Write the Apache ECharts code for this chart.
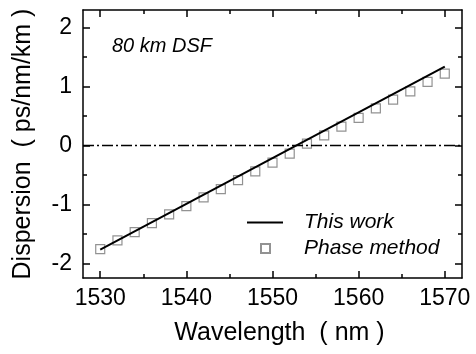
<!DOCTYPE html>
<html>
<head>
<meta charset="utf-8">
<title>Dispersion</title>
<script src="https://cdn.jsdelivr.net/npm/echarts@6/dist/echarts.min.js"></script>
<style>
  html, body { margin: 0; padding: 0; background: #fff; }
  #chart { width: 476px; height: 354px; }
</style>
</head>
<body>
<div id="chart"></div>
<script>
// data
const wavelengths = [1530, 1532, 1534, 1536, 1538, 1540, 1542, 1544, 1546, 1548, 1550,
                     1552, 1554, 1556, 1558, 1560, 1562, 1564, 1566, 1568, 1570];
const phaseMethod = [-1.76, -1.61, -1.47, -1.32, -1.17, -1.03, -0.88, -0.74, -0.59, -0.44, -0.29,
                     -0.14, 0.03, 0.17, 0.32, 0.47, 0.63, 0.78, 0.92, 1.08, 1.22];
const fitX = [1530, 1570];
const fitY = [-1.77, 1.34];
const xMajor = [1530, 1540, 1550, 1560, 1570];
const xMinor = [1535, 1545, 1555, 1565];
const yMajor = [-2, -1, 0, 1, 2];
const yMinor = [-1.5, -0.5, 0.5, 1.5];

const font = 'Liberation Sans, Arial, sans-serif';
const chart = echarts.init(document.getElementById('chart'));

function xAx(pos, ticks, len, showLine, label) {
    return {
        type: 'value', position: pos, min: 1528, max: 1572,
        axisLine: { show: showLine, onZero: false, lineStyle: { color: '#000', width: 1.5 } },
        axisTick: { show: true, inside: true, length: len, customValues: ticks, lineStyle: { color: '#000', width: 1.5 } },
        axisLabel: label ? { customValues: xMajor, formatter: v => String(v), color: '#000', fontSize: 23, fontFamily: font, margin: 9 } : { show: false },
        splitLine: { show: false }
    };
}
function yAx(pos, ticks, len, showLine, label) {
    return {
        type: 'value', position: pos, min: -2.25, max: 2.3,
        axisLine: { show: showLine, onZero: false, lineStyle: { color: '#000', width: 1.5 } },
        axisTick: { show: true, inside: true, length: len, customValues: ticks, lineStyle: { color: '#000', width: 1.5 } },
        axisLabel: label ? { customValues: yMajor, color: '#000', fontSize: 23, fontFamily: font, margin: 11 } : { show: false },
        splitLine: { show: false }
    };
}

const xAxes = [
    xAx('bottom', xMajor, 7, true, true),
    xAx('bottom', xMinor, 4, false, false),
    xAx('top', xMajor, 7, true, false),
    xAx('top', xMinor, 4, false, false)
];
xAxes[0].name = 'Wavelength  ( nm )';
xAxes[0].nameLocation = 'middle';
xAxes[0].nameGap = 43;
xAxes[0].nameTextStyle = { color: '#000', fontSize: 25, fontFamily: font, padding: [0, 0, 0, 14] };

const yAxes = [
    yAx('left', yMajor, 7, true, true),
    yAx('left', yMinor, 4, false, false),
    yAx('right', yMajor, 7, true, false),
    yAx('right', yMinor, 4, false, false)
];
yAxes[0].name = 'Dispersion  ( ps/nm/km )';
yAxes[0].nameLocation = 'middle';
yAxes[0].nameGap = 47;
yAxes[0].nameTextStyle = { color: '#000', fontSize: 25, fontFamily: font };

chart.setOption({
    animation: false,
    grid: { left: 83, right: 14, top: 10, bottom: 76 },
    title: {
        text: '80 km DSF', left: 112, top: 36, padding: 0,
        textStyle: { fontSize: 20, fontStyle: 'italic', fontWeight: 'normal', color: '#000', fontFamily: font }
    },
    legend: [{
        data: [{ name: 'This work', icon: 'rect' }], left: 247, top: 212, padding: 0,
        itemWidth: 36, itemHeight: 2,
        textStyle: { fontSize: 21, fontStyle: 'italic', color: '#000', fontFamily: font, padding: [0, 0, 0, 16] }
    }, {
        data: ['Phase method'], left: 260, top: 238, padding: 0, itemWidth: 9, itemHeight: 9,
        textStyle: { fontSize: 21, fontStyle: 'italic', color: '#000', fontFamily: font, padding: [0, 0, 0, 29] }
    }],
    xAxis: xAxes,
    yAxis: yAxes,
    series: [{
        name: 'This work', type: 'line', symbol: 'none',
        data: fitX.map((x, i) => [x, fitY[i]]),
        lineStyle: { color: '#000', width: 2 },
        itemStyle: { color: '#000' },
        markLine: {
            silent: true, symbol: 'none', label: { show: false },
            lineStyle: { color: '#000', width: 1.3, type: [11, 3, 2, 3] },
            data: [{ yAxis: 0 }]
        }
    }, {
        name: 'Phase method', type: 'scatter', symbol: 'rect', symbolSize: 9,
        data: wavelengths.map((x, i) => [x, phaseMethod[i]]),
        itemStyle: { color: 'rgba(0,0,0,0)', borderColor: '#777', borderWidth: 1.2 }
    }]
});
</script>
</body>
</html>
